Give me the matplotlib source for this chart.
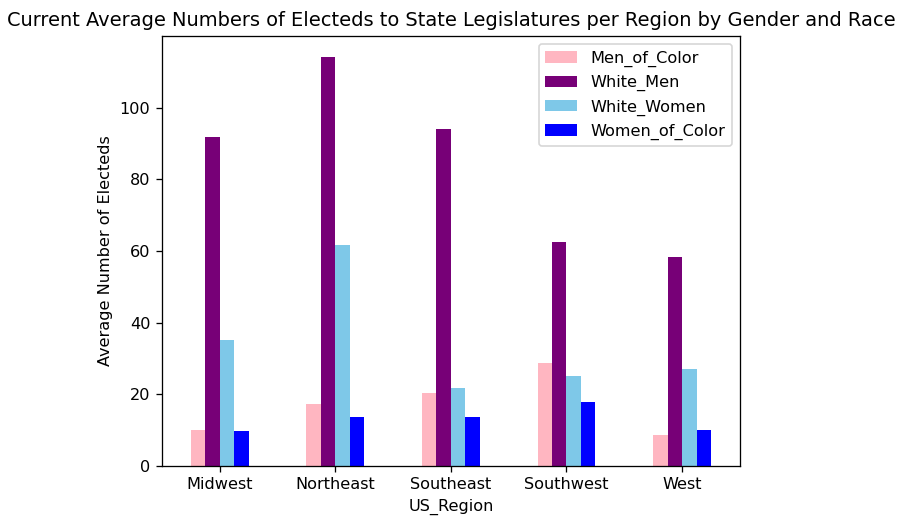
import matplotlib
matplotlib.use("Agg")
import matplotlib.pyplot as plt
import pandas as pd

regions = ["Midwest", "Northeast", "Southeast", "Southwest", "West"]
men_of_color = [9.9, 17.3, 20.2, 28.6, 8.5]
white_men = [91.7, 114.2, 94.0, 62.6, 58.3]
white_women = [35.1, 61.6, 21.8, 25.1, 27.0]
women_of_color = [9.6, 13.7, 13.5, 17.7, 9.9]

colors = ["lightpink", "#770077", "#7EC8E8", "blue"]

df = pd.DataFrame({
    "Men_of_Color": men_of_color,
    "White_Men": white_men,
    "White_Women": white_women,
    "Women_of_Color": women_of_color,
}, index=pd.Index(regions, name="US_Region"))

# reference looks like a ~116.5 dpi render, so scale everything that way
dpi = 116.5
fig, ax = plt.subplots(figsize=(899 / dpi, 524 / dpi), dpi=dpi)
fig.subplots_adjust(left=0.180, right=0.823, top=0.931, bottom=0.111)

df.plot(kind="bar", ax=ax, color=colors, rot=0)
ax.set_title("Current Average Numbers of Electeds to State Legislatures per Region by Gender and Race")
ax.set_ylabel("Average Number of Electeds")
ax.legend(loc="upper right")

fig.savefig("out.png", dpi=dpi)
